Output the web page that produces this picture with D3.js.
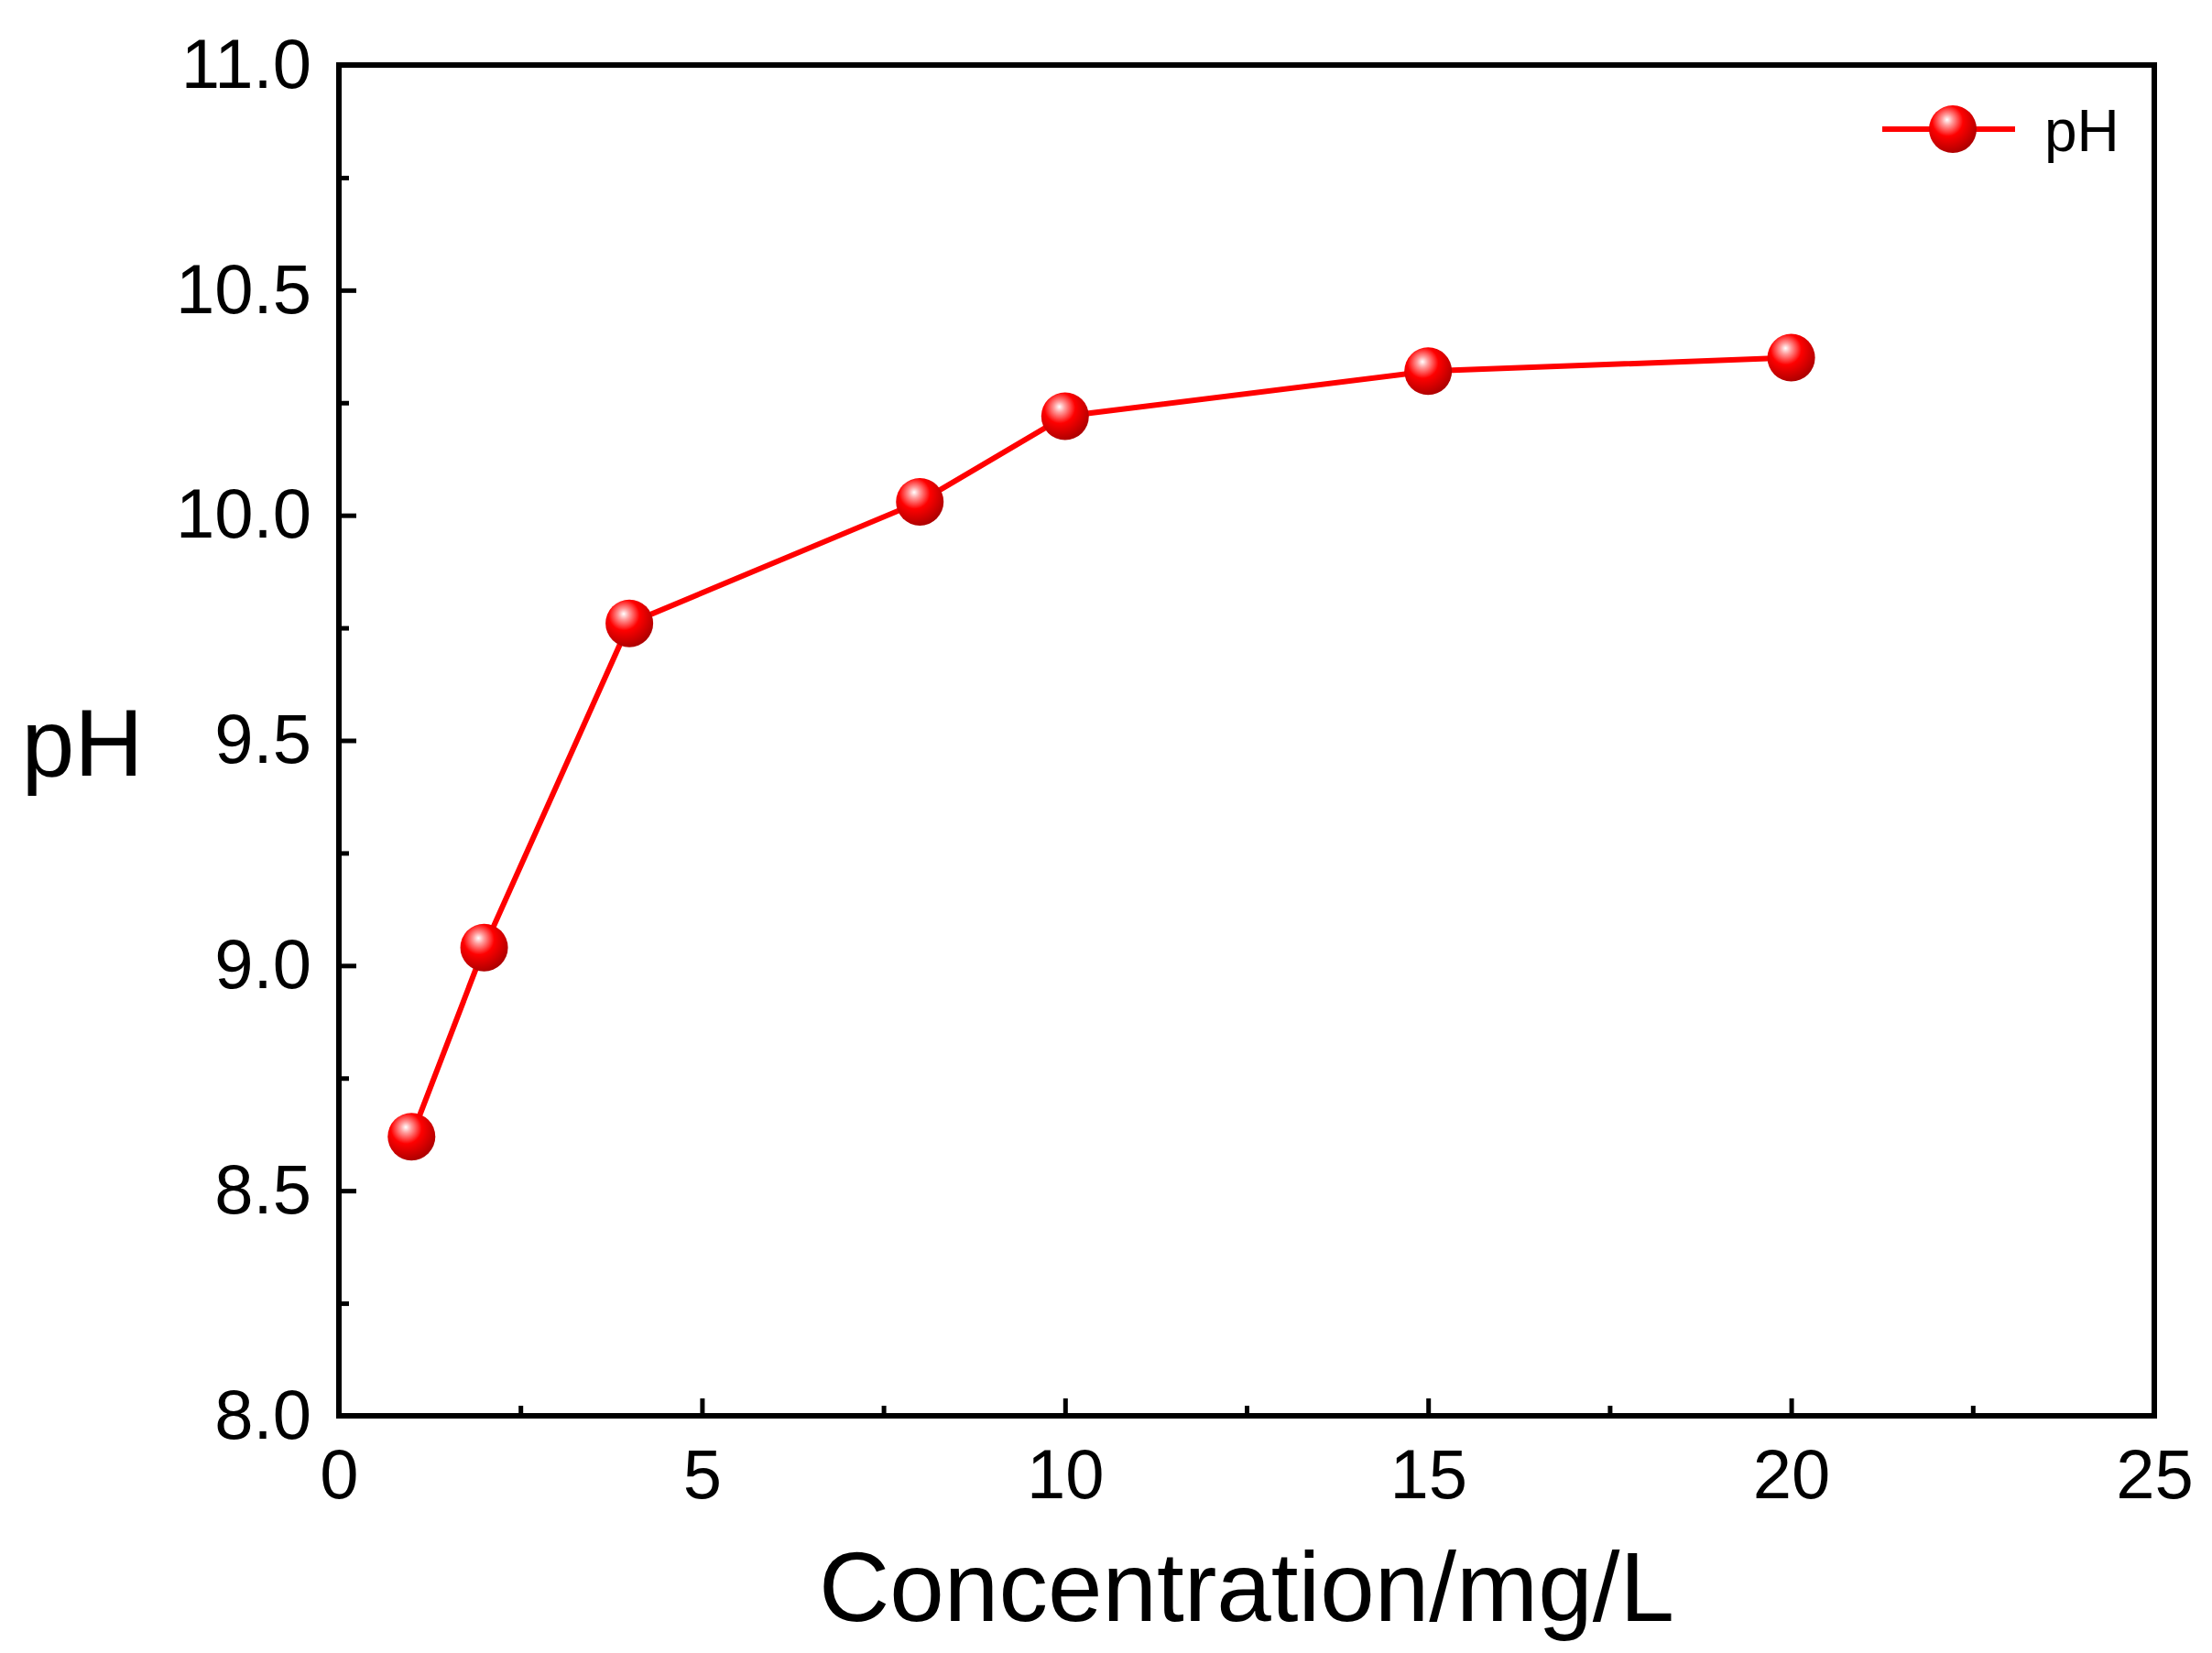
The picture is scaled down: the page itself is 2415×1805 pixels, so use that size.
<!DOCTYPE html><html><head><meta charset="utf-8"><script src="https://cdn.jsdelivr.net/npm/d3@7"></script>
<style>body{margin:0;background:#fff}</style></head><body><svg id="c" width="2415" height="1805"></svg>
<script>
const concentrations=[1,2,4,8,10,15,20];
const phValues=[8.62,9.04,9.76,10.03,10.22,10.32,10.35];
const xTicks=[0,5,10,15,20,25];
const yTicks=[8.0,8.5,9.0,9.5,10.0,10.5,11.0];
const svg=d3.select("#c");
const L=370,R=2352,T=71,B=1546;
const x=d3.scaleLinear().domain([0,25]).range([L,R]);
const y=d3.scaleLinear().domain([8,11]).range([B,T]);
const F="Liberation Sans, Arial, sans-serif";
const defs=svg.append("defs");
const g=defs.append("radialGradient").attr("id","ball").attr("cx","0.4").attr("cy","0.35").attr("r","0.65").attr("fx","0.38").attr("fy","0.3");
g.append("stop").attr("offset","0").attr("stop-color","#ffffff");
g.append("stop").attr("offset","0.18").attr("stop-color","#ff9a9a");
g.append("stop").attr("offset","0.5").attr("stop-color","#ff0000");
g.append("stop").attr("offset","1").attr("stop-color","#b00000");
const xm=d3.axisBottom(x).tickValues(d3.range(2.5,25,5)).tickSize(-11).tickFormat("");
svg.append("g").attr("transform",`translate(0,${B})`).call(xm).call(a=>a.select(".domain").remove()).selectAll("line").attr("stroke","#000").attr("stroke-width",5);
const ym=d3.axisLeft(y).tickValues(d3.range(8.25,11,0.5)).tickSize(-11).tickFormat("");
svg.append("g").attr("transform",`translate(${L},0)`).call(ym).call(a=>a.select(".domain").remove()).selectAll("line").attr("stroke","#000").attr("stroke-width",5);
const xa=d3.axisBottom(x).tickValues(xTicks).tickSize(-19).tickPadding(36).tickFormat(d3.format("d"));
svg.append("g").attr("transform",`translate(0,${B})`).call(xa).call(a=>a.select(".domain").remove())
 .call(a=>a.selectAll("line").attr("stroke","#000").attr("stroke-width",5))
 .call(a=>a.selectAll("text").attr("font-family",F).attr("font-size",76).attr("fill","#000"));
const ya=d3.axisLeft(y).tickValues(yTicks).tickSize(-19).tickPadding(30).tickFormat(d3.format(".1f"));
svg.append("g").attr("transform",`translate(${L},0)`).call(ya).call(a=>a.select(".domain").remove())
 .call(a=>a.selectAll("line").attr("stroke","#000").attr("stroke-width",5))
 .call(a=>a.selectAll("text").attr("font-family",F).attr("font-size",76).attr("fill","#000"));
svg.append("rect").attr("x",L).attr("y",T).attr("width",R-L).attr("height",B-T).attr("fill","none").attr("stroke","#000").attr("stroke-width",6);
const line=d3.line().x((d,i)=>x(concentrations[i])).y(d=>y(d));
svg.append("path").datum(phValues).attr("d",line).attr("fill","none").attr("stroke","#ff0000").attr("stroke-width",6);
svg.selectAll(".pt").data(phValues).join("circle").attr("cx",(d,i)=>x(concentrations[i])).attr("cy",d=>y(d)).attr("r",26).attr("fill","url(#ball)");
svg.append("line").attr("x1",2055).attr("x2",2200).attr("y1",141).attr("y2",141).attr("stroke","#ff0000").attr("stroke-width",6);
svg.append("circle").attr("cx",2132).attr("cy",141).attr("r",26).attr("fill","url(#ball)");
svg.append("text").attr("x",2232).attr("y",165).attr("font-family",F).attr("font-size",64).text("pH");
svg.append("text").attr("x",(L+R)/2).attr("y",1770).attr("text-anchor","middle").attr("font-family",F).attr("font-size",107).text("Concentration/mg/L");
svg.append("text").attr("x",90).attr("y",y(9.5)+38).attr("text-anchor","middle").attr("font-family",F).attr("font-size",104).text("pH");
</script></body></html>
